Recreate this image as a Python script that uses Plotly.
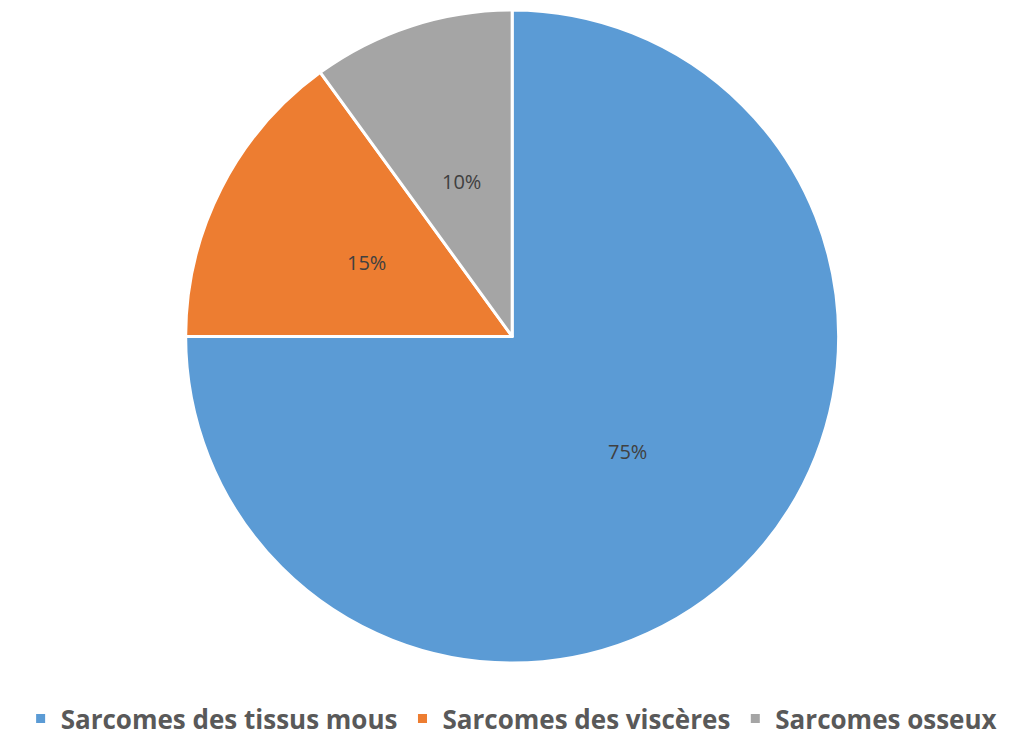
import math
import plotly.graph_objects as go

categories = ["Sarcomes des tissus mous", "Sarcomes des viscères", "Sarcomes osseux"]
values = [75, 15, 10]
colors = ["#5B9BD5", "#ED7D31", "#A5A5A5"]

W, H = 1031, 736
M_L, M_R, M_T, M_B = 0, 0, 2, 81
DOM_X = [0, 0.978]

fig = go.Figure(go.Pie(
    labels=categories,
    values=values,
    sort=False,
    direction="clockwise",
    rotation=0,
    marker=dict(colors=colors, line=dict(color="white", width=3)),
    textinfo="none",
    domain=dict(x=DOM_X, y=[0, 1]),
))

# percentage labels at half the radius, along each slice's bisector
plot_w = W - M_L - M_R
plot_h = H - M_T - M_B
radius = min((DOM_X[1] - DOM_X[0]) * plot_w, plot_h) / 2
cx = (DOM_X[0] + DOM_X[1]) / 2
cy = 0.5
total = sum(values)
cum = 0
for v in values:
    theta = 2 * math.pi * (cum + v / 2) / total
    cum += v
    fig.add_annotation(
        x=cx + 0.5 * radius * math.sin(theta) / plot_w,
        y=cy + 0.5 * radius * math.cos(theta) / plot_h,
        xref="paper", yref="paper",
        xanchor="center", yanchor="middle",
        text=f"{round(100 * v / total)}%",
        showarrow=False,
        font=dict(family="Open Sans", size=20, color="#404040"),
    )

fig.update_layout(
    width=W,
    height=H,
    margin=dict(l=M_L, r=M_R, t=M_T, b=M_B),
    paper_bgcolor="white",
    showlegend=True,
    legend=dict(
        orientation="h",
        x=0.488, xanchor="center",
        y=-0.085, yanchor="middle",
        font=dict(family="Open Sans", size=26, color="#595959", weight="bold"),
        itemwidth=30,
    ),
)

fig.write_html("out.html")
